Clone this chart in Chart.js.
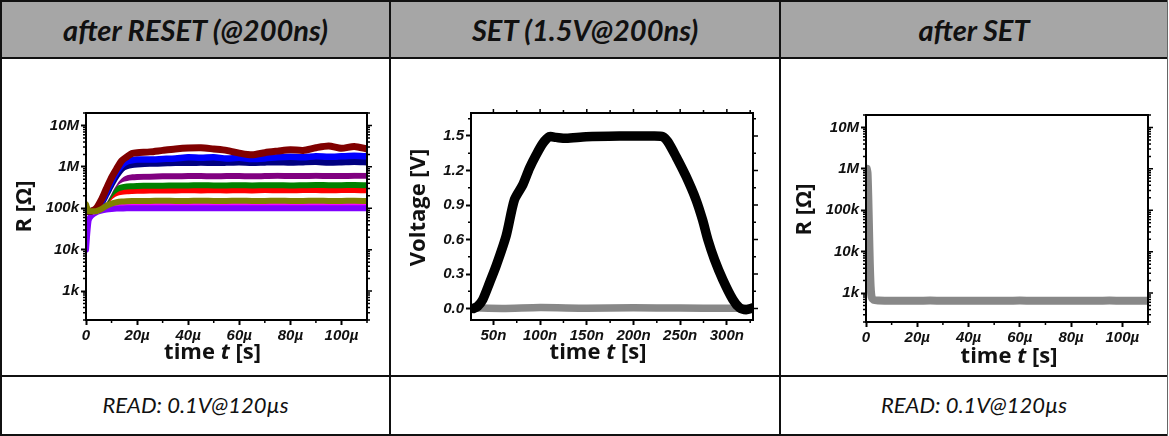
<!DOCTYPE html>
<html><head><meta charset="utf-8">
<script src="https://cdn.jsdelivr.net/npm/chart.js@4.4.1/dist/chart.umd.min.js"></script>
<style>
html,body{margin:0;padding:0;background:#fff;}
#root{position:relative;width:1169px;height:436px;overflow:hidden;}
.hdr{position:absolute;left:0;top:0;width:1167px;height:58px;background:#a6a6a6;}
.ln{position:absolute;background:#111;}
.htxt{position:absolute;top:1px;height:57px;line-height:57px;text-align:center;font-family:Lato,"Open Sans",sans-serif;font-weight:bold;font-style:italic;font-size:29px;color:#111;}
.ftxt{position:absolute;top:376px;height:58px;line-height:58px;text-align:center;font-family:Lato,"Open Sans",sans-serif;font-style:italic;font-size:22px;color:#111;}
.cw{position:absolute;top:59px;height:316px;}
</style>
</head><body>
<div id="root">
  <div class="hdr"></div>
  <div class="htxt" style="left:2px;width:387px;">after RESET (@200ns)</div>
  <div class="htxt" style="left:391px;width:388px;">SET (1.5V@200ns)</div>
  <div class="htxt" style="left:781px;width:386px;">after SET</div>
  <div class="ftxt" style="left:2px;width:387px;">READ: 0.1V@120µs</div>
  <div class="ftxt" style="left:781px;width:386px;">READ: 0.1V@120µs</div>
  <div class="cw" style="left:2px;width:387px;"><canvas id="c1" width="387" height="316"></canvas></div>
  <div class="cw" style="left:392px;width:387px;"><canvas id="c2" width="387" height="316"></canvas></div>
  <div class="cw" style="left:782px;width:384px;"><canvas id="c3" width="384" height="316"></canvas></div>
  <div class="ln" style="left:0;top:0;width:1168px;height:2px;"></div>
  <div class="ln" style="left:0;top:57px;width:1168px;height:2px;"></div>
  <div class="ln" style="left:0;top:375px;width:1168px;height:2px;"></div>
  <div class="ln" style="left:0;top:434px;width:1168px;height:2px;"></div>
  <div class="ln" style="left:0;top:0;width:2px;height:436px;"></div>
  <div class="ln" style="left:389px;top:0;width:2px;height:436px;"></div>
  <div class="ln" style="left:779px;top:0;width:2px;height:436px;"></div>
  <div class="ln" style="left:1167px;top:0;width:1px;height:436px;background:#666;"></div>
</div>
<script>
// ---------- DATA ----------
// Panel 1: after RESET, time in µs, resistance in Ω
const T_RESET = [0,1,2,4,6,8,10,12,14,16,18,20,25,30,35,40,45,50,55,60,65,70,75,80,85,90,95,100,105,110];
const R_DARKRED = [85e3,85e3,85e3,100e3,160e3,300e3,550e3,900e3,1.4e6,1.75e6,2.1e6,2.2e6,2.3e6,2.5e6,2.7e6,2.85e6,2.9e6,2.7e6,2.5e6,2.15e6,1.95e6,2.2e6,2.4e6,2.6e6,2.5e6,2.9e6,3.2e6,2.8e6,3.1e6,2.7e6];
const R_BLUE = [85e3,85e3,85e3,95e3,140e3,250e3,450e3,750e3,1.1e6,1.35e6,1.45e6,1.5e6,1.5e6,1.55e6,1.6e6,1.7e6,1.65e6,1.7e6,1.6e6,1.65e6,1.55e6,1.6e6,1.7e6,1.75e6,1.7e6,1.8e6,1.75e6,1.8e6,1.85e6,1.8e6];
const R_NAVY = [85e3,85e3,85e3,92e3,130e3,220e3,380e3,620e3,900e3,1.05e6,1.12e6,1.15e6,1.2e6,1.22e6,1.25e6,1.25e6,1.28e6,1.25e6,1.27e6,1.3e6,1.25e6,1.28e6,1.3e6,1.27e6,1.3e6,1.32e6,1.28e6,1.3e6,1.33e6,1.3e6];
const R_WHITE1 = [85e3,85e3,85e3,90e3,120e3,190e3,320e3,500e3,650e3,740e3,790e3,810e3,830e3,840e3,850e3,850e3,860e3,850e3,850e3,860e3,850e3,850e3,860e3,850e3,850e3,860e3,850e3,850e3,860e3,850e3];
const R_PURPLE = [85e3,85e3,85e3,90e3,118e3,180e3,300e3,420e3,500e3,540e3,560e3,570e3,580e3,590e3,590e3,600e3,600e3,590e3,600e3,600e3,590e3,600e3,610e3,600e3,600e3,610e3,600e3,600e3,610e3,610e3];
const R_GREEN = [85e3,85e3,85e3,88e3,112e3,160e3,230e3,290e3,320e3,335e3,340e3,345e3,350e3,350e3,355e3,355e3,360e3,355e3,355e3,360e3,355e3,360e3,360e3,355e3,360e3,365e3,360e3,360e3,365e3,360e3];
const R_RED = [85e3,85e3,85e3,87e3,108e3,150e3,200e3,235e3,250e3,258e3,262e3,265e3,268e3,270e3,270e3,272e3,270e3,272e3,270e3,272e3,270e3,275e3,272e3,272e3,275e3,275e3,272e3,275e3,275e3,272e3];
const R_WHITE2 = [85e3,85e3,85e3,86e3,104e3,130e3,165e3,185e3,195e3,198e3,200e3,200e3,202e3,200e3,202e3,200e3,202e3,200e3,202e3,200e3,202e3,200e3,202e3,200e3,202e3,200e3,202e3,200e3,202e3,200e3];
const R_OLIVE = [125e3,85e3,85e3,85e3,95e3,115e3,130e3,140e3,145e3,148e3,150e3,150e3,150e3,152e3,150e3,150e3,152e3,150e3,150e3,152e3,150e3,150e3,152e3,150e3,150e3,152e3,150e3,150e3,152e3,150e3];
const R_MAGENTA = [80e3,82e3,84e3,85e3,92e3,102e3,110e3,114e3,116e3,117e3,118e3,118e3,118e3,118e3,118e3,118e3,118e3,118e3,118e3,118e3,118e3,118e3,118e3,118e3,118e3,118e3,118e3,118e3,118e3,118e3];
const R_VIOLET = [10e3,50e3,65e3,80e3,88e3,93e3,96e3,98e3,99e3,100e3,100e3,100e3,100e3,100e3,100e3,100e3,100e3,100e3,100e3,100e3,100e3,100e3,100e3,100e3,100e3,100e3,100e3,100e3,100e3,100e3];

// Panel 2: SET pulse, time in ns, voltage in V
const T_PULSE = [28.6,33.2,38.6,45.7,52.9,63.6,72.5,81.4,88.6,95.7,102.9,110,117,127.9,149.3,185,220.7,231.4,236.8,245.7,256.4,267,274,279.6,286.8,295.7,306.4,313.6,320.7,327.9];
const V_PULSE = [0,0.02,0.078,0.22,0.37,0.63,0.945,1.075,1.22,1.335,1.436,1.494,1.488,1.48,1.494,1.5,1.5,1.494,1.45,1.32,1.147,0.945,0.77,0.6,0.425,0.25,0.078,0.006,-0.01,0.006];
const T_BASE = [28,60,100,150,200,250,300,328];
const V_BASE = [0.005,0.0,0.008,0.003,0.006,0.004,0.002,0.005];

// Panel 3: after SET, time in µs, resistance in Ω
const T_SET = [0.3,0.6,0.9,1.2,1.5,1.8,2.2,3,5,10,15,20,25,30,35,40,45,50,55,60,65,70,75,80,85,90,95,100,105,110];
const R_SET = [1.0e6,8e5,2e5,3e4,5e3,1.5e3,800,680,660,650,655,650,660,650,655,650,650,655,650,660,650,655,650,650,655,650,660,650,655,650];

// Tick values and labels
const R_TICKS = [1e3,1e4,1e5,1e6,1e7];
const R_LABELS = ['1k','10k','100k','1M','10M'];
const US_TICKS = [0,20,40,60,80,100];
const US_LABELS = ['0','20µ','40µ','60µ','80µ','100µ'];
const NS_TICKS = [50,100,150,200,250,300];
const NS_LABELS = ['50n','100n','150n','200n','250n','300n'];
const V_TICKS = [0,0.3,0.6,0.9,1.2,1.5];
const V_LABELS = ['0.0','0.3','0.6','0.9','1.2','1.5'];

// ---------- helpers ----------
const TICK_FONT = {family:'"Liberation Sans", Arial, sans-serif', size:15, weight:'bold', style:'italic'};
const TITLE_FAMILY = '"Open Sans", sans-serif';
const TITLE_SIZE = 22;

const framePlugin = {
  id:'frame',
  afterDraw(chart, args, opts){
    const {ctx, chartArea:a} = chart;
    const xs = chart.scales.x, ys = chart.scales.y;
    ctx.save();
    ctx.strokeStyle = '#000';
    ctx.lineWidth = 2;
    ctx.strokeRect(a.left, a.top, a.right - a.left, a.bottom - a.top);
    ctx.lineWidth = 1.5;
    ctx.beginPath();
    (opts.minorY || []).forEach(v => {
      const p = ys.getPixelForValue(v);
      if (p < a.top - 0.5 || p > a.bottom + 0.5) return;
      ctx.moveTo(a.left - 3, p); ctx.lineTo(a.left, p);
      ctx.moveTo(a.right, p); ctx.lineTo(a.right + 3, p);
    });
    (opts.majorY || []).forEach(v => {
      const p = ys.getPixelForValue(v);
      ctx.moveTo(a.right, p); ctx.lineTo(a.right + 5, p);
    });
    (opts.minorX || []).forEach(v => {
      const p = xs.getPixelForValue(v);
      if (p < a.left - 0.5 || p > a.right + 0.5) return;
      ctx.moveTo(p, a.bottom); ctx.lineTo(p, a.bottom + 3);
      if (opts.topTicks) { ctx.moveTo(p, a.top); ctx.lineTo(p, a.top - 3); }
    });
    if (opts.topTicks) (opts.majorX || []).forEach(v => {
      const p = xs.getPixelForValue(v);
      ctx.moveTo(p, a.top); ctx.lineTo(p, a.top - 4);
    });
    ctx.stroke();

    // axis titles
    ctx.fillStyle = '#111';
    const t = opts.titles;
    if (t) {
      ctx.font = 'bold ' + TITLE_SIZE + 'px ' + TITLE_FAMILY;
      ctx.textAlign = 'center'; ctx.textBaseline = 'middle';
      ctx.save();
      ctx.translate(t.yx, (a.top + a.bottom) / 2 + t.ydy);
      ctx.rotate(-Math.PI / 2);
      ctx.fillText(t.yText, 0, 0);
      ctx.restore();
      // x title with italic t
      const parts = t.xParts;
      let total = 0;
      const widths = parts.map(pt => {
        ctx.font = (pt[1] ? 'italic ' : '') + 'bold ' + TITLE_SIZE + 'px ' + TITLE_FAMILY;
        const w = ctx.measureText(pt[0]).width; total += w; return w;
      });
      let x = (a.left + a.right) / 2 + t.xdx - total / 2;
      ctx.textAlign = 'left';
      parts.forEach((pt, i) => {
        ctx.font = (pt[1] ? 'italic ' : '') + 'bold ' + TITLE_SIZE + 'px ' + TITLE_FAMILY;
        ctx.fillText(pt[0], x, a.bottom + t.xdy);
        x += widths[i];
      });
    }
    ctx.restore();
  }
};

function axisCommon(){
  return {
    grid:{drawOnChartArea:false, drawTicks:true, tickLength:5, tickColor:'#000', tickWidth:2},
    border:{display:true, color:'#000', width:2},
    ticks:{font:TICK_FONT, color:'#111', padding:2, autoSkip:false, maxRotation:0, minRotation:0},
    title:{display:false}
  };
}

function logMinor(){
  const out = [];
  for (let e = 2; e <= 7; e++) for (let k = 2; k <= 9; k++) out.push(k * Math.pow(10, e));
  return out;
}

function resistanceChart(id, datasets, pad, yw, xh, titles){
  const x = axisCommon(), y = axisCommon();
  Object.assign(x, {type:'linear', min:0, max:110,
    afterBuildTicks: s => { s.ticks = US_TICKS.map(v => ({value:v})); },
    afterFit: s => { s.height = xh; }});
  x.ticks.callback = (v, i) => US_LABELS[i];
  Object.assign(y, {type:'logarithmic', min:200, max:2e7,
    afterBuildTicks: s => { s.ticks = R_TICKS.map(v => ({value:v})); },
    afterFit: s => { s.width = yw; }});
  y.ticks.callback = (v, i) => R_LABELS[i];
  return new Chart(document.getElementById(id), {
    type:'line',
    data:{datasets},
    options:{
      responsive:false, animation:false, events:[],
      layout:{padding:pad},
      scales:{x, y},
      plugins:{legend:{display:false}, tooltip:{enabled:false},
        frame:{minorY:logMinor(), majorY:R_TICKS, minorX:[10,30,50,70,90,110], titles}}
    },
    plugins:[framePlugin]
  });
}

function series(T, R, color, w){
  return {data:T.map((t, i) => ({x:t, y:R[i]})), borderColor:color, borderWidth:w,
    pointRadius:0, tension:0.25, fill:false, borderJoinStyle:'round', borderCapStyle:'round'};
}

function build(){
  Chart.defaults.font.family = '"Liberation Sans", Arial, sans-serif';

  resistanceChart('c1', [
    series(T_RESET, R_OLIVE, '#808000', 6),
    series(T_RESET, R_DARKRED, '#800000', 7),
    series(T_RESET, R_BLUE, '#0000ff', 6.5),
    series(T_RESET, R_NAVY, '#000080', 6.5),
    series(T_RESET, R_WHITE1, '#ffffff', 6),
    series(T_RESET, R_PURPLE, '#800080', 6),
    series(T_RESET, R_GREEN, '#008000', 6),
    series(T_RESET, R_RED, '#ff0000', 6),
    series(T_RESET, R_WHITE2, '#ffffff', 6),
    series(T_RESET, R_VIOLET, '#8000ff', 6),
    series(T_RESET, R_MAGENTA, '#ff00ff', 6)
  ], {left:0, top:54, right:22, bottom:0}, 84, 55,
  {yText:'R [Ω]', yx:23, ydy:-10, xParts:[['time ',0],['t',1],[' [s]',0]], xdx:-14, xdy:33});

  // Panel 2
  const x2 = axisCommon(), y2 = axisCommon();
  Object.assign(x2, {type:'linear', min:26, max:328,
    afterBuildTicks: s => { s.ticks = NS_TICKS.map(v => ({value:v})); },
    afterFit: s => { s.height = 55; }});
  x2.ticks.callback = (v, i) => NS_LABELS[i];
  Object.assign(y2, {type:'linear', min:-0.1, max:1.7,
    afterBuildTicks: s => { s.ticks = V_TICKS.map(v => ({value:v})); },
    afterFit: s => { s.width = 79; }});
  y2.ticks.callback = (v, i) => V_LABELS[i];
  new Chart(document.getElementById('c2'), {
    type:'line',
    data:{datasets:[
      series(T_PULSE, V_PULSE, '#000000', 9.5),
      series(T_BASE, V_BASE, '#888888', 7.5)
    ]},
    options:{
      responsive:false, animation:false, events:[],
      layout:{padding:{left:0, top:54, right:26, bottom:0}},
      scales:{x:x2, y:y2},
      plugins:{legend:{display:false}, tooltip:{enabled:false},
        frame:{minorY:[0.15,0.45,0.75,1.05,1.35,1.65], majorY:V_TICKS, minorX:[75,125,175,225,275,325], majorX:NS_TICKS, topTicks:true,
          titles:{yText:'Voltage [V]', yx:27, ydy:-9, xParts:[['time ',0],['t',1],[' [s]',0]], xdx:-14, xdy:33}}}
    },
    plugins:[framePlugin]
  });

  resistanceChart('c3', [
    series(T_SET, R_SET, '#888888', 8)
  ], {left:0, top:56, right:18, bottom:0}, 84, 53,
  {yText:'R [Ω]', yx:23, ydy:-9, xParts:[['time ',0],['t',1],[' [s]',0]], xdx:2, xdy:35});
}
if (document.fonts && document.fonts.ready) document.fonts.ready.then(build); else build();
</script>
</body></html>
